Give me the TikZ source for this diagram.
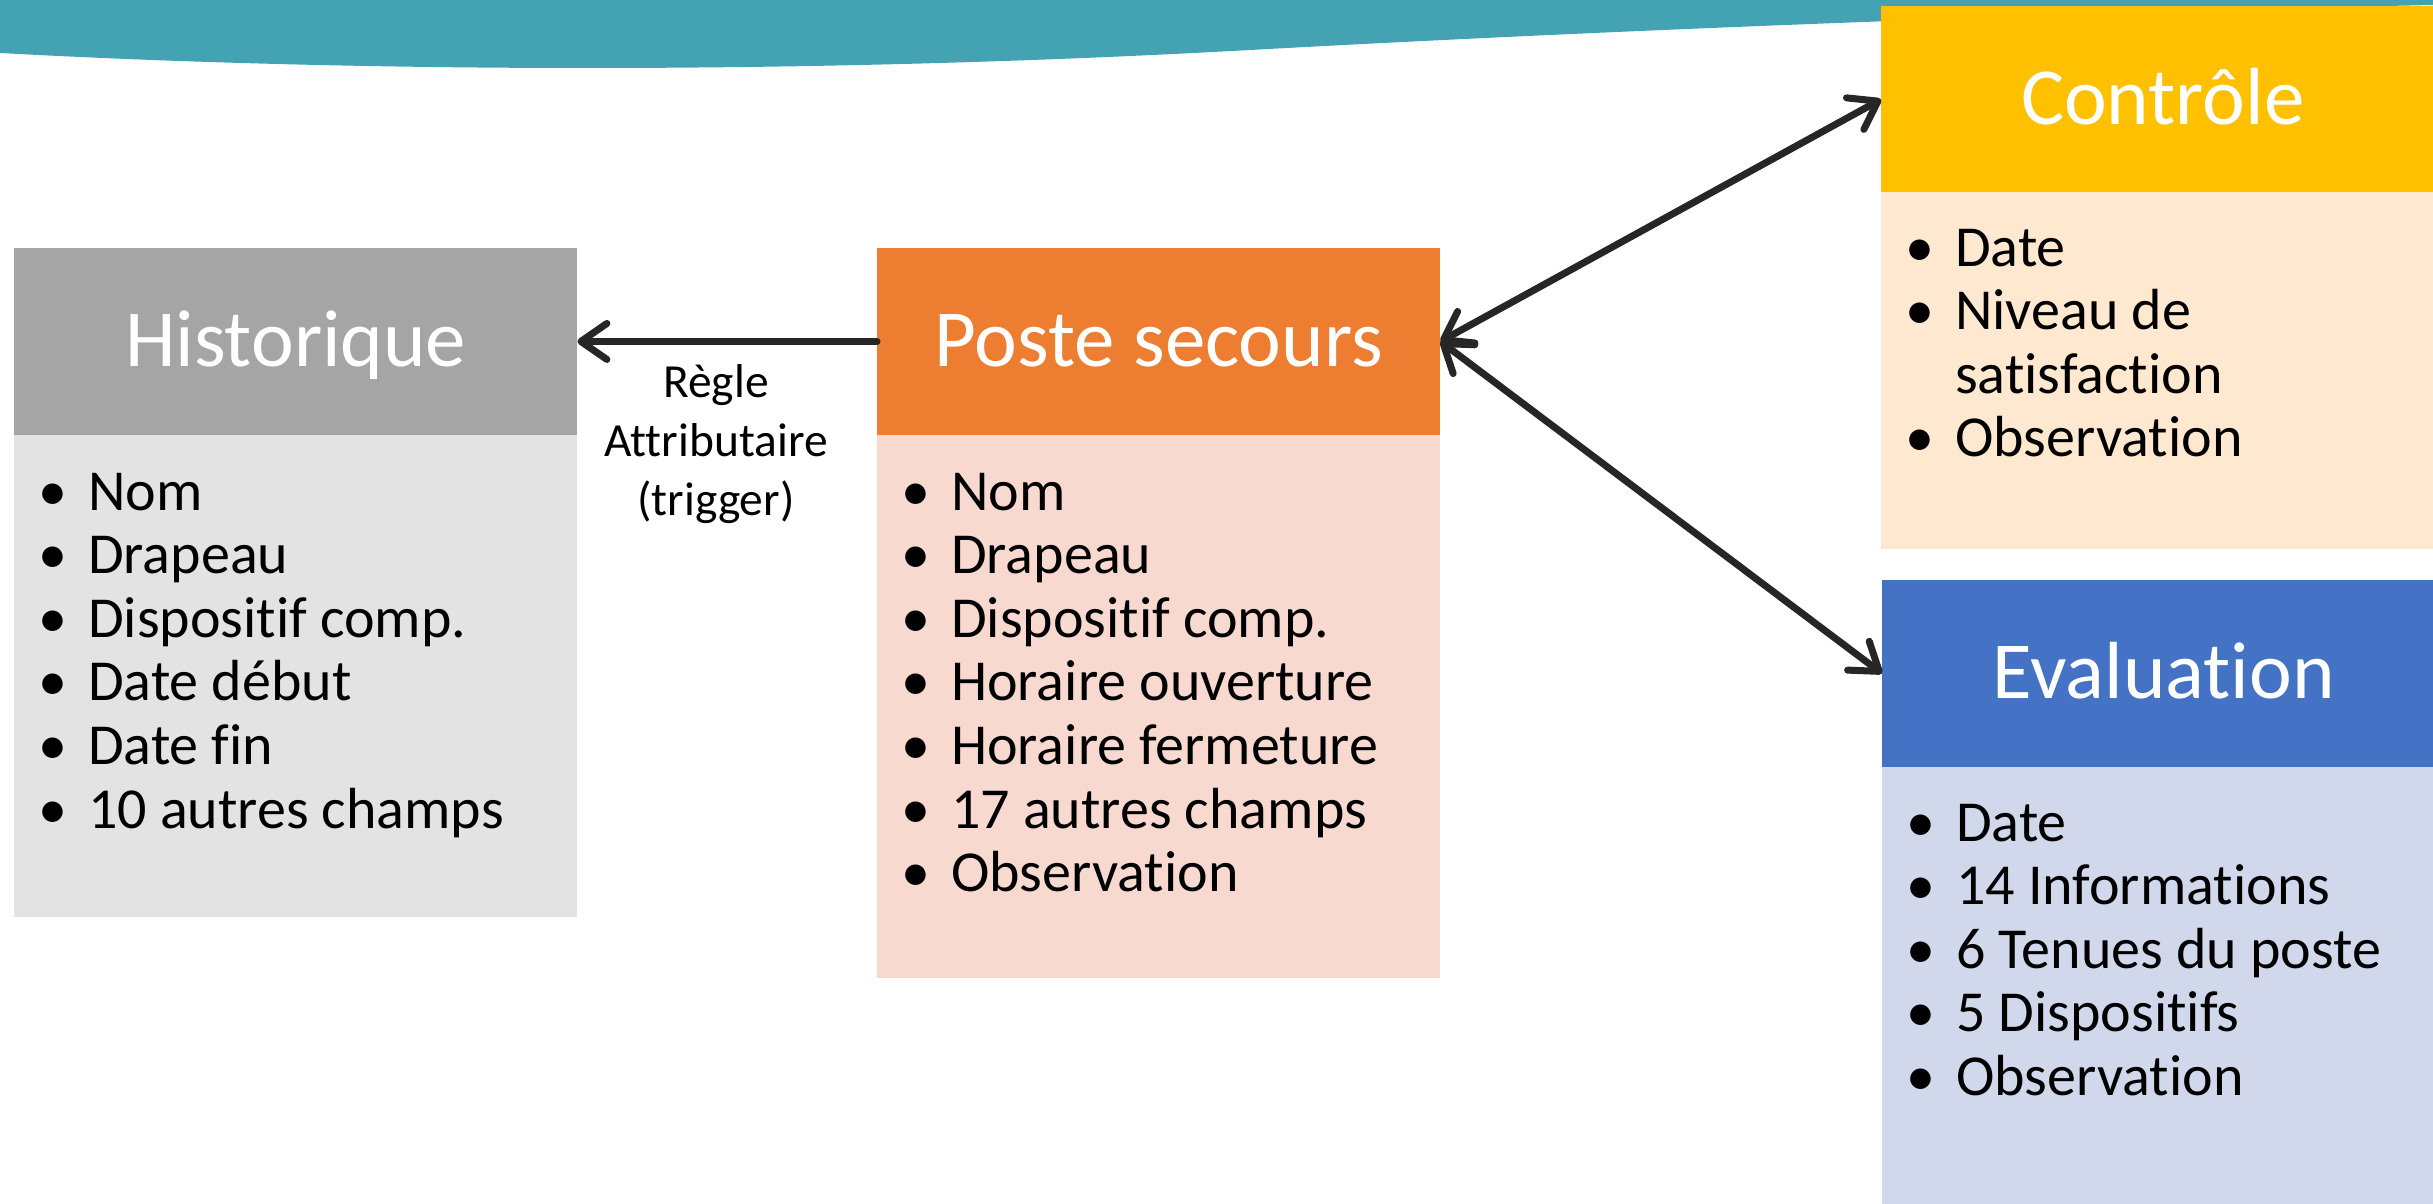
\documentclass[tikz,border=0pt]{standalone}
\usepackage{fontspec}
\setmainfont{Carlito}[Ligatures=NoCommon]
\usepackage{array}
\usetikzlibrary{arrows.meta,calc}
\definecolor{wavecol}{HTML}{44A3B3}
\definecolor{histhd}{HTML}{A5A5A5}
\definecolor{histbd}{HTML}{E3E3E3}
\definecolor{postehd}{HTML}{ED7D31}
\definecolor{postebd}{HTML}{F7D9D0}
\definecolor{ctrlhd}{HTML}{FFC000}
\definecolor{ctrlbd}{HTML}{FEE8CF}
\definecolor{evalhd}{HTML}{4472C4}
\definecolor{evalbd}{HTML}{D2D8EB}
\definecolor{arrowgray}{HTML}{262626}
\begin{document}
\begin{tikzpicture}[x=1pt,y=-1pt,
  hdr/.style={rectangle, anchor=north west, inner sep=0pt, minimum width=563pt, minimum height=186.5pt, text=white, font=\fontsize{81}{97}\selectfont, text height=51pt, text depth=0pt},
  bodybox/.style={rectangle, anchor=north west, inner sep=0pt, minimum width=563pt},
  itemlist/.style={anchor=base west, inner sep=0pt, text=black, font=\fontsize{58}{63.6}\selectfont},
  lbl/.style={anchor=base, inner sep=0pt, text=black, font=\fontsize{47.5}{59}\selectfont},
  conn/.style={draw=arrowgray, line width=7pt, line cap=round},
  >={Straight Barb[length=26pt,width=36pt,round]}
]
\clip (0,0) rectangle (2433,1204);
% top wave
\fill[wavecol] (0,0) -- (0,53) .. controls (350,72) and (800,75) .. (1250,50) .. controls (1650,28) and (2100,12) .. (2433,5) -- (2433,0) -- cycle;

% Historique
\node[hdr, fill=histhd] (hist) at (14,248) {Historique};
\node[bodybox, fill=histbd, minimum height=482.5pt] (histb) at (14,434.5) {};
\node[itemlist] (histl) at ($(histb.north west)+(4,75.5)$) {\begin{tabular}[t]{@{}w{c}{70pt}@{}l@{}}
\textbullet & Nom\\ \textbullet & Drapeau\\ \textbullet & Dispositif comp.\\ \textbullet & Date début\\ \textbullet & Date fin\\ \textbullet & 10 autres champs
\end{tabular}};

% Poste secours
\node[hdr, fill=postehd] (poste) at (877,248) {Poste secours};
\node[bodybox, fill=postebd, minimum height=543pt] (posteb) at (877,434.5) {};
\node[itemlist] (postel) at ($(posteb.north west)+(4,75.5)$) {\begin{tabular}[t]{@{}w{c}{70pt}@{}l@{}}
\textbullet & Nom\\ \textbullet & Drapeau\\ \textbullet & Dispositif comp.\\ \textbullet & Horaire ouverture\\ \textbullet & Horaire fermeture\\ \textbullet & 17 autres champs\\ \textbullet & Observation
\end{tabular}};

% Controle
\node[hdr, fill=ctrlhd] (ctrl) at (1881,6) {Contrôle};
\node[bodybox, fill=ctrlbd, minimum height=357pt] (ctrlb) at (1881,192) {};
\node[itemlist] (ctrll) at ($(ctrlb.north west)+(4,74)$) {\begin{tabular}[t]{@{}w{c}{70pt}@{}l@{}}
\textbullet & Date\\ \textbullet & Niveau de\\ & satisfaction\\ \textbullet & Observation
\end{tabular}};

% Evaluation
\node[hdr, fill=evalhd] (eval) at (1882,580) {Evaluation};
\node[bodybox, fill=evalbd, minimum height=600pt] (evalb) at (1882,766.5) {};
\node[itemlist] (evall) at ($(evalb.north west)+(4,74.5)$) {\begin{tabular}[t]{@{}w{c}{70pt}@{}l@{}}
\textbullet & Date\\ \textbullet & 14 Informations\\ \textbullet & 6 Tenues du poste\\ \textbullet & 5 Dispositifs\\ \textbullet & Observation
\end{tabular}};

% label
\node[lbl] (rule) at (716,397) {\begin{tabular}[t]{@{}c@{}}Règle\\Attributaire\\(trigger)\end{tabular}};

% connectors
\draw[conn, ->] (poste.west) -- (hist.east);
\draw[conn, <->] (poste.east) -- (ctrl.west);
\draw[conn, <->] (poste.east) -- (eval.west);
\end{tikzpicture}
\end{document}
